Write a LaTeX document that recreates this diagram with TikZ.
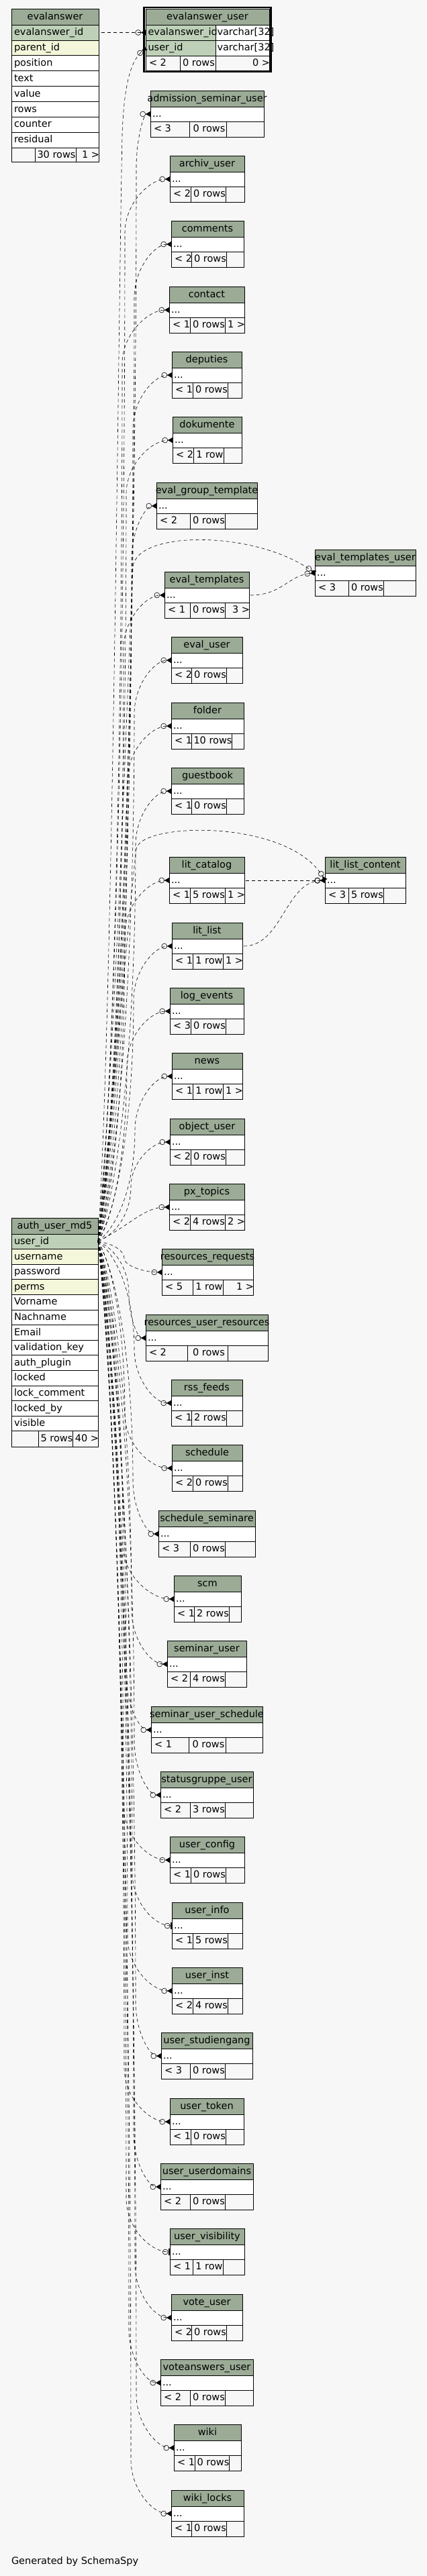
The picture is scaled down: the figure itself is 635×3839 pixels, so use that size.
\documentclass[tikz,border=0pt]{standalone}
\usepackage{fontspec}
\setmainfont{DejaVu Sans}
\usetikzlibrary{arrows.meta}
\definecolor{hdrc}{HTML}{9BAB96}
\definecolor{pkc}{HTML}{BED1B8}
\definecolor{idxc}{HTML}{F4F7DA}
\definecolor{bgc}{HTML}{F7F7F7}
\newcommand\tfont{\fontsize{14.5}{16}\selectfont}
\newlength\hw
\tikzset{
 txt/.style={inner sep=0pt, outer sep=0pt, font=\tfont, text=black},
 tline/.style={draw=black, line width=0.8pt},
 rel/.style={line width=0.6pt, dash pattern=on 5pt off 4pt,
   -{Circle[open,length=8.5pt,width=8.5pt] Triangle[reversed,length=7pt,width=8pt]}},
 relone/.style={-{Circle[open,length=8.5pt,width=8.5pt] Bar[width=10pt,line width=2.5pt]}},
}
% header text, shifted like the reference
\newcommand\htext[5]{% name, x1, x2, ytop, text
 \settowidth\hw{\tfont\detokenize{#5}}%
 \pgfmathsetmacro\hx{(#2+#3)/2+0.06*\hw}%
 \node[txt,anchor=base] (#1) at (\hx,#4+16) {\detokenize{#5}};
}
% stub table: name, x1, ytop, x2, split1, split2, f1, f2, f3
\newcommand\stub[9]{%
 \fill[hdrc] (#2,#3) rectangle (#4,#3+24);
 \fill[white] (#2,#3+24) rectangle (#4,#3+46);
 \fill[bgc] (#2,#3+46) rectangle (#4,#3+69);
 \draw[tline] (#2,#3) rectangle (#4,#3+69);
 \draw[tline] (#2,#3+24) -- (#4,#3+24) (#2,#3+46) -- (#4,#3+46)
   (#5,#3+46) -- (#5,#3+69) (#6,#3+46) -- (#6,#3+69);
 \htext{#1-t}{#2}{#4}{#3}{#1}
 \node[txt,anchor=base west] (#1-r) at (#2+3,#3+39) {...};
 \node[txt,anchor=base west] (#1-f1) at (#2+5,#3+61.5) {#7};
 \node[txt,anchor=base] (#1-f2) at ({(#5+#6)/2+2},#3+61.5) {#8};
 \node[txt,anchor=base east] (#1-f3) at (#4+1,#3+61.5) {#9};
 \coordinate (#1) at (#2,#3+35);
 \expandafter\xdef\csname tx@#1\endcsname{#2}%
 \expandafter\xdef\csname ty@#1\endcsname{\the\numexpr#3+35\relax}%
}
% connector from auth_user_md5.user_id to a stub, through the bundle at x=#3
\newcommand\redge[3][]{%
 \pgfmathsetmacro\tx{\csname tx@#2\endcsname}%
 \pgfmathsetmacro\ty{\csname ty@#2\endcsname}%
 \pgfmathsetmacro\sg{sign(\ty-1850)}%
 \pgfmathsetmacro\hh{min(80,abs(\ty-1850)*0.45)}%
 \pgfmathsetmacro\my{\ty-\sg*\hh}%
 \pgfmathsetmacro\DD{abs(\my-1850)}%
 \pgfmathsetmacro\ca{1850+\sg*0.15*\DD}%
 \pgfmathsetmacro\cb{\my-\sg*0.45*\DD}%
 \pgfmathsetmacro\cc{\my+\sg*0.55*\hh}%
 \pgfmathsetmacro\cx{\tx-0.45*(\tx-#3)}%
 \pgfmathsetmacro\cax{146+0.6*(#3-146)}%
 \draw[rel,#1] (auth-out) .. controls (\cax,\ca) and (#3,\cb) .. (#3,\my)
   .. controls (#3,\cc) and (\cx,\ty) .. (#2);
}
\begin{document}
\begin{tikzpicture}[x=1pt,y=-1pt]
\fill[bgc] (0,0) rectangle (635,3839);
\useasboundingbox (0,0) rectangle (635,3839);

% ---------- evalanswer ----------
\filldraw[fill=hdrc,tline] (17,13) rectangle (147,37);
\htext{ea-t}{17}{147}{13}{evalanswer}
\foreach \t/\c [count=\i from 0] in {evalanswer\_id/pkc,parent\_id/idxc,position/white,text/white,value/white,rows/white,counter/white,residual/white}{
 \filldraw[fill=\c,tline] (17,37+22.9*\i) rectangle (147,59.9+22.9*\i);
 \node[txt,anchor=base west] (ea-r\i) at (21,52.5+22.9*\i) {\t};
}
\filldraw[fill=bgc,tline] (17,220.2) rectangle (147,241.5);
\draw[tline] (52,220.2) -- (52,241.5) (113,220.2) -- (113,241.5);
\node[txt,anchor=base] (ea-f2) at (84,235.7) {30 rows};
\node[txt,anchor=base east] (ea-f3) at (148,235.7) {1 >};

% ---------- evalanswer_user ----------
\filldraw[fill=hdrc,tline] (217,13) rectangle (401,37);
\htext{eu-t}{217}{401}{13}{evalanswer_user}
\filldraw[fill=pkc,tline] (217,37) rectangle (321,60);
\filldraw[fill=white,tline] (321,37) rectangle (401,60);
\filldraw[fill=pkc,tline] (217,60) rectangle (321,83);
\filldraw[fill=white,tline] (321,60) rectangle (401,83);
\filldraw[fill=bgc,tline] (217,83) rectangle (401,105);
\draw[tline] (268,83) -- (268,105) (321,83) -- (321,105);
\node[txt,anchor=base west] (eu-r1a) at (220.5,52.5) {evalanswer\_id};
\node[txt,anchor=base west] (eu-r1b) at (323.5,52.5) {varchar[32]};
\node[txt,anchor=base west] (eu-r2a) at (220.5,75.5) {user\_id};
\node[txt,anchor=base west] (eu-r2b) at (323.5,75.5) {varchar[32]};
\node[txt,anchor=base west] (eu-f1) at (222,98.5) {< 2};
\node[txt,anchor=base] (eu-f2) at (296,98.5) {0 rows};
\node[txt,anchor=base east] (eu-f3) at (402,98.5) {0 >};
\draw[line width=2.5pt] (214.5,11.2) rectangle (403.3,106.8);

% ---------- auth_user_md5 ----------
\filldraw[fill=hdrc,tline] (17,1815) rectangle (146,1839);
\htext{au-t}{17}{146}{1815}{auth_user_md5}
\foreach \t/\c [count=\i from 0] in {user\_id/pkc,username/idxc,password/white,perms/idxc,Vorname/white,Nachname/white,Email/white,validation\_key/white,auth\_plugin/white,locked/white,lock\_comment/white,locked\_by/white,visible/white}{
 \filldraw[fill=\c,tline] (17,1839+22.6*\i) rectangle (146,1861.6+22.6*\i);
 \node[txt,anchor=base west] (au-r\i) at (21,1854.5+22.6*\i) {\t};
}
\filldraw[fill=bgc,tline] (17,2132.8) rectangle (146,2156);
\draw[tline] (57,2132.8) -- (57,2156) (108,2132.8) -- (108,2156);
\node[txt,anchor=base] (au-f2) at (84.5,2148.5) {5 rows};
\node[txt,anchor=base east] (au-f3) at (147,2148.5) {40 >};

% ---------- stub tables ----------
\stub{admission_seminar_user}{224}{135}{393}{282}{337}{< 3}{0 rows}{}
\stub{archiv_user}{253}{232}{364}{284}{336}{< 2}{0 rows}{}
\stub{comments}{255}{329}{363}{285}{337}{< 2}{0 rows}{}
\stub{contact}{252}{427}{364}{283}{335}{< 1}{0 rows}{1 >}
\stub{deputies}{256}{524}{360}{287}{339}{< 1}{0 rows}{}
\stub{dokumente}{257}{621}{360}{288}{333}{< 2}{1 row}{}
\stub{eval_group_template}{233}{719}{383}{283}{335}{< 2}{0 rows}{}
\stub{eval_templates_user}{469}{819}{619}{519}{571}{< 3}{0 rows}{}
\stub{eval_templates}{245}{852}{371}{283}{335}{< 1}{0 rows}{3 >}
\stub{eval_user}{255}{949}{361}{285}{337}{< 2}{0 rows}{}
\stub{folder}{255}{1047}{363}{285}{345}{< 1}{10 rows}{}
\stub{guestbook}{255}{1144}{363}{285}{337}{< 1}{0 rows}{}
\stub{lit_catalog}{252}{1277}{364}{283}{335}{< 1}{5 rows}{1 >}
\stub{lit_list_content}{484}{1277}{604}{519}{571}{< 3}{5 rows}{}
\stub{lit_list}{256}{1375}{361}{287}{332}{< 1}{1 row}{1 >}
\stub{log_events}{253}{1472}{363}{284}{336}{< 3}{0 rows}{}
\stub{news}{256}{1569}{361}{287}{332}{< 1}{1 row}{1 >}
\stub{object_user}{253}{1667}{364}{284}{336}{< 2}{0 rows}{}
\stub{px_topics}{252}{1764}{364}{283}{335}{< 2}{4 rows}{2 >}
\stub{resources_requests}{241}{1861}{377}{287}{332}{< 5}{1 row}{1 >}
\stub{resources_user_resources}{217}{1959}{399}{279}{339}{< 2}{0 rows}{}
\stub{rss_feeds}{255}{2056}{361}{285}{337}{< 1}{2 rows}{}
\stub{schedule}{256}{2153}{361}{287}{339}{< 2}{0 rows}{}
\stub{schedule_seminare}{236}{2251}{380}{283}{335}{< 3}{0 rows}{}
\stub{scm}{259}{2348}{359}{289}{341}{< 1}{2 rows}{}
\stub{seminar_user}{249}{2445}{367}{283}{335}{< 2}{4 rows}{}
\stub{seminar_user_schedule}{225}{2543}{391}{281}{336}{< 1}{0 rows}{}
\stub{statusgruppe_user}{239}{2640}{377}{283}{335}{< 2}{3 rows}{}
\stub{user_config}{253}{2737}{364}{284}{336}{< 1}{0 rows}{}
\stub{user_info}{256}{2835}{361}{287}{339}{< 1}{5 rows}{}
\stub{user_inst}{256}{2932}{361}{287}{339}{< 2}{4 rows}{}
\stub{user_studiengang}{240}{3029}{376}{283}{335}{< 3}{0 rows}{}
\stub{user_token}{253}{3127}{363}{284}{336}{< 1}{0 rows}{}
\stub{user_userdomains}{239}{3224}{377}{283}{335}{< 2}{0 rows}{}
\stub{user_visibility}{253}{3321}{364}{287}{332}{< 1}{1 row}{}
\stub{vote_user}{255}{3419}{361}{285}{337}{< 2}{0 rows}{}
\stub{voteanswers_user}{239}{3516}{377}{283}{335}{< 2}{0 rows}{}
\stub{wiki}{259}{3613}{359}{290}{341}{< 1}{0 rows}{}
\stub{wiki_locks}{255}{3711}{363}{285}{337}{< 1}{0 rows}{}

\node[txt,anchor=base west] (gen) at (17,3821) {Generated by SchemaSpy};

% ---------- connectors ----------
\coordinate (auth-out) at (146,1850);
\coordinate (ea-out) at (151,48.5);
\coordinate (eu-eid) at (217,48.5);
\coordinate (eu-uid) at (217,71.5);
\coordinate (et-out) at (373,887);
\coordinate (lc-out) at (366,1312);
\coordinate (ll-out) at (363,1410);

\draw[rel] (ea-out) -- (eu-eid);
\draw[rel] (auth-out) .. controls (168,1500) and (176,500) .. (182,200)
  .. controls (185,120) and (196,90) .. (eu-uid);
\draw[rel] (auth-out) .. controls (176,1500) and (190,1000) .. (198,845)
  .. controls (203,790) and (380,790) .. (eval_templates_user);
\draw[rel] (et-out) .. controls (420,887) and (430,857) .. (eval_templates_user);
\draw[rel] (auth-out) .. controls (172,1600) and (196,1320) .. (203,1265)
  .. controls (210,1225) and (430,1220) .. (lit_list_content);
\draw[rel] (lc-out) -- (lit_list_content);
\draw[rel] (ll-out) .. controls (420,1410) and (425,1314) .. (lit_list_content);
\draw[rel] (auth-out) .. controls (195,1825) and (215,1799) .. (px_topics);

\redge{admission_seminar_user}{203}
\redge{archiv_user}{186}
\redge{comments}{200}
\redge{contact}{182}
\redge{deputies}{198}
\redge{dokumente}{188}
\redge{eval_group_template}{196}
\redge{eval_templates}{184}
\redge{eval_user}{200}
\redge{folder}{190}
\redge{guestbook}{202}
\redge{lit_catalog}{186}
\redge{lit_list}{199}
\redge{log_events}{189}
\redge{news}{201}
\redge{object_user}{195}

\redge{resources_requests}{185}
\redge{resources_user_resources}{192}
\redge{rss_feeds}{200}
\redge{schedule}{186}
\redge{schedule_seminare}{198}
\redge{scm}{183}
\redge{seminar_user}{196}
\redge{seminar_user_schedule}{188}
\redge{statusgruppe_user}{200}
\redge{user_config}{184}
\redge[relone]{user_info}{197}
\redge{user_inst}{190}
\redge{user_studiengang}{202}
\redge{user_token}{185}
\redge{user_userdomains}{199}
\redge[relone]{user_visibility}{188}
\redge{vote_user}{201}
\redge{voteanswers_user}{192}
\redge{wiki}{203}
\redge{wiki_locks}{195}
\end{tikzpicture}
\end{document}
